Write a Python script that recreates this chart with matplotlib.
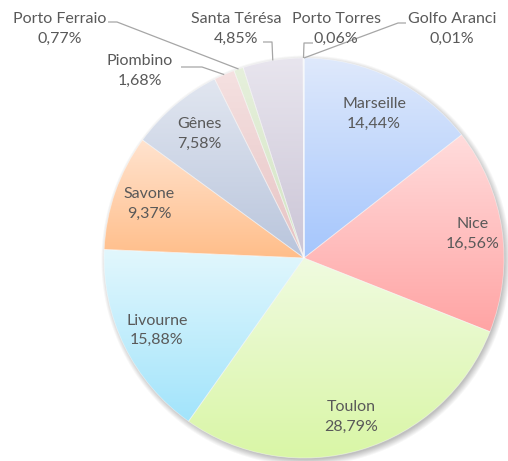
import numpy as np
import matplotlib.pyplot as plt
from matplotlib.colors import to_rgb

# data
ports = ['Marseille', 'Nice', 'Toulon', 'Livourne', 'Savone', 'Gênes',
         'Piombino', 'Porto Ferraio', 'Santa Térésa', 'Porto Torres', 'Golfo Aranci']
parts = [14.44, 16.56, 28.79, 15.88, 9.37, 7.58, 1.68, 0.77, 4.85, 0.06, 0.01]

# gradient colours (top -> bottom of each slice)
top_colors = ['#dfe9fb', '#ffdcdc', '#f0fbe0', '#e2f7fd', '#ffe3cf', '#e1e6f0',
              '#f5e1e1', '#e6f0dc', '#e8e5ee', '#dfe9f2', '#f2e6da']
bottom_colors = ['#a5c6fd', '#ffa4a4', '#d9f6a6', '#a2e4fb', '#ffbe8a', '#b9c5dc',
                 '#e6c3c3', '#d3e4c3', '#cbc5d6', '#c6d6e6', '#e0ccb8']

# inside labels: distance from centre (fraction of radius); outside ones placed by hand
inside_dist = [0.80, 0.85, 0.83, 0.82, 0.82, 0.81]
outside_text = {6: (140, 71), 7: (60, 29), 8: (236, 29), 9: (336, 29), 10: (452, 29)}
outside_elbow = {6: [(181, 67), (202, 67)], 7: [(108, 22), (117, 22)],
                 8: [(263, 42), (272, 42)], 9: [(313, 43), (304, 43)],
                 10: [(406, 23), (398, 23)]}

W, H = 508, 461
cx, cy, r = 304, H - 258, 200
txt_color = '#595959'
font = 'Lato'

fig = plt.figure(figsize=(W / 100, H / 100), dpi=100)
ax = fig.add_axes([0, 0, 1, 1])

# soft shadow under the pie
yy, xx = np.mgrid[0:H, 0:W] + 0.5
d = np.hypot(xx - (cx + 2), yy - (cy - 3))
alpha = 0.38 * np.clip(1 - (d - (r - 2)) / 7, 0, 1)
shadow = np.zeros((H, W, 4))
shadow[..., :3] = 0.35
shadow[..., 3] = alpha
ax.imshow(shadow, extent=(0, W, 0, H), origin='lower', zorder=0, interpolation='bilinear')

wedges, _ = ax.pie(parts, startangle=90, counterclock=False, center=(cx, cy), radius=r,
                   wedgeprops=dict(facecolor='none', edgecolor=(1, 1, 1, 0.45), linewidth=0.6))

for i, w in enumerate(wedges):
    w.set_zorder(3)
    ext = w.get_path().get_extents()
    c0, c1 = np.array(to_rgb(top_colors[i])), np.array(to_rgb(bottom_colors[i]))
    t = np.linspace(0, 1, 128)[:, None, None]
    grad = c0 * (1 - t) + c1 * t
    im = ax.imshow(grad, extent=(ext.x0, ext.x1, ext.y0, ext.y1), origin='upper',
                   aspect='auto', interpolation='bilinear', zorder=2)
    im.set_clip_path(w)

    label = f"{ports[i]}\n{parts[i]:.2f}%".replace('.', ',')
    ang = np.deg2rad((w.theta1 + w.theta2) / 2)
    if i in outside_text:
        tx, ty = outside_text[i]
        ax.text(tx, H - ty, label, ha='center', va='center', color=txt_color,
                fontsize=11.5, family=font, linespacing=1.5, zorder=5)
        ax_x = cx + r * np.cos(ang)
        ax_y = cy + r * np.sin(ang)
        pts = outside_elbow[i]
        xs = [p[0] for p in pts] + [ax_x]
        ys = [H - p[1] for p in pts] + [ax_y]
        ax.plot(xs, ys, color='#a6a6a6', lw=0.9, zorder=4, solid_capstyle='butt')
    else:
        k = inside_dist[i]
        ax.text(cx + k * r * np.cos(ang), cy + k * r * np.sin(ang), label,
                ha='center', va='center', color=txt_color, fontsize=11.5,
                family=font, linespacing=1.5, zorder=5)

ax.set_xlim(0, W)
ax.set_ylim(0, H)
ax.set_aspect('auto')
ax.axis('off')
fig.savefig('out.png', dpi=100, facecolor='white')
